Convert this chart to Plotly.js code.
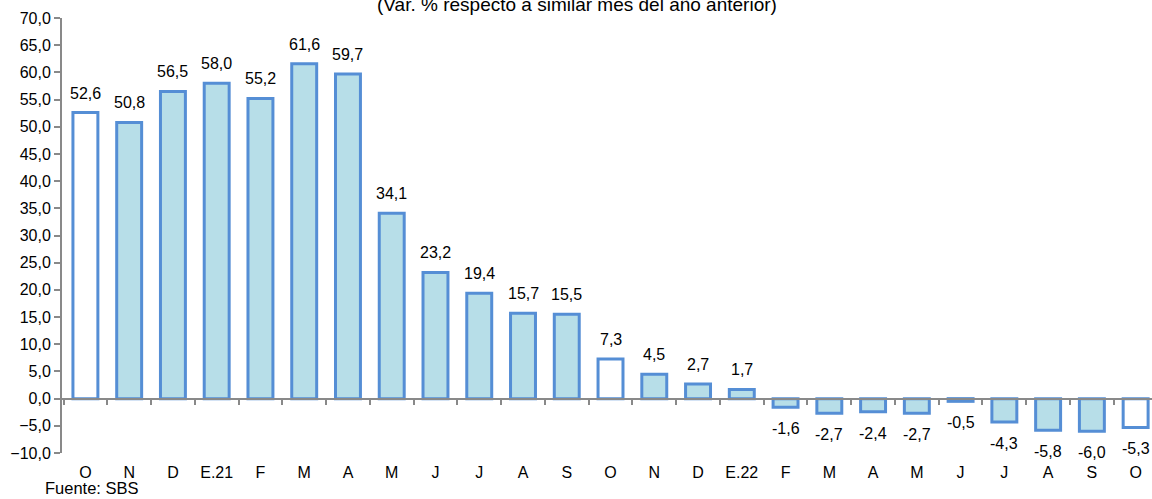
<!DOCTYPE html>
<html>
<head>
<meta charset="utf-8">
<script src="https://cdn.plot.ly/plotly-3.0.1.min.js"></script>
<style>html,body{margin:0;padding:0;background:#fff;overflow:hidden}</style>
</head>
<body>
<div id="chart" style="width:1152px;height:499px"></div>
<script>
const months = ["O","N","D","E.21","F","M","A","M","J","J","A","S","O","N","D","E.22","F","M","A","M","J","J","A","S","O"];
const values = [52.6,50.8,56.5,58.0,55.2,61.6,59.7,34.1,23.2,19.4,15.7,15.5,7.3,4.5,2.7,1.7,-1.6,-2.7,-2.4,-2.7,-0.5,-4.3,-5.8,-6.0,-5.3];
const highlighted = [0,12,24];

const xs = months.map((_, i) => i);
const fills = months.map((_, i) => highlighted.includes(i) ? "#FFFFFF" : "#B7DEE8");
const fmt = v => v.toFixed(1).replace(".", ",");

const FONT = "Liberation Sans, Arial, sans-serif";

const trace = {
  type: "bar",
  x: xs,
  y: values,
  width: 0.57,
  marker: {color: fills, line: {color: "#558ED5", width: 3}},
  hoverinfo: "skip"
};

const valueLabels = values.map((v, i) => ({
  x: xs[i], y: v, xref: "x", yref: "y",
  text: fmt(v),
  showarrow: false,
  xanchor: "center",
  yanchor: v >= 0 ? "bottom" : "top",
  yshift: v >= 0 ? 9 : -11,
  font: {family: FONT, size: 16, color: "#000"}
}));

const layout = {
  width: 1152,
  height: 499,
  margin: {l: 62, r: 0, t: 18, b: 46},
  paper_bgcolor: "#fff",
  plot_bgcolor: "#fff",
  separators: ",.",
  showlegend: false,
  font: {family: FONT, size: 16, color: "#000"},
  xaxis: {
    type: "linear",
    range: [-0.535, 24.374],
    anchor: "free",
    position: 0.125,
    showline: true,
    linecolor: "#898989",
    linewidth: 2,
    showgrid: false,
    zeroline: false,
    tickmode: "array",
    tickvals: xs,
    ticktext: months,
    ticks: "",
    ticklabelstandoff: 59,
    tickfont: {size: 16},
    minor: {tick0: -0.5, dtick: 1, ticks: "outside", ticklen: 5, tickcolor: "#898989", tickwidth: 2, showgrid: false},
    fixedrange: true
  },
  yaxis: {
    range: [-10, 70],
    dtick: 5,
    tick0: 0,
    tickformat: ".1f",
    showline: true,
    linecolor: "#898989",
    linewidth: 2,
    ticks: "outside",
    ticklen: 6,
    tickcolor: "#898989",
    tickwidth: 2,
    showgrid: false,
    zeroline: false,
    tickfont: {size: 16},
    fixedrange: true
  },
  annotations: [
    {
      text: "(Var. % respecto a similar mes del año anterior)",
      xref: "paper", yref: "paper", x: 0.4725, y: 1,
      xanchor: "center", yanchor: "bottom", yshift: 1,
      showarrow: false,
      font: {family: FONT, size: 19, color: "#000"}
    },
    {
      text: "Fuente: SBS",
      xref: "paper", yref: "paper", x: 0, y: 0,
      xanchor: "left", yanchor: "middle", xshift: -19, yshift: -35,
      showarrow: false,
      font: {family: FONT, size: 16.5, color: "#000"}
    }
  ].concat(valueLabels)
};

Plotly.newPlot("chart", [trace], layout, {displayModeBar: false, staticPlot: true});
</script>
</body>
</html>
